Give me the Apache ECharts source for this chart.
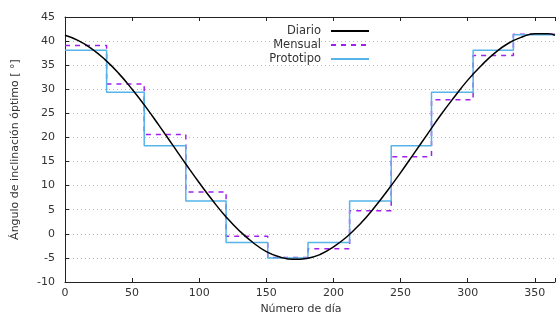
<!DOCTYPE html>
<html>
<head>
<meta charset="utf-8">
<script src="https://cdn.jsdelivr.net/npm/echarts@6/dist/echarts.min.js"></script>
<style>
  html, body { margin: 0; padding: 0; background: #fff; }
  #chart { width: 558px; height: 323px; }
</style>
</head>
<body>
<div id="chart"></div>
<script>
// inicio de cada mes (día del año) y fin de año
const monthStarts = [0, 31, 59, 90, 120, 151, 181, 212, 243, 273, 304, 334, 365];
// ángulo óptimo medio mensual (línea a trazos)
const monthlyValues = [39.1, 31.1, 20.6, 8.7, -0.5, -4.9, -3.1, 4.8, 16.0, 27.8, 37.0, 41.4];
// ángulos del prototipo (escalones azules)
const prototypeValues = [38.1, 29.4, 18.3, 6.8, -1.8, -5.0, -1.8, 6.8, 18.3, 29.4, 38.1, 41.3];
// ángulo diario leído cada 10 días
const dailyDays = [0, 10, 20, 30, 40, 50, 60, 70, 80, 90, 100, 110, 120, 130, 140, 150, 160, 170, 180,
  190, 200, 210, 220, 230, 240, 250, 260, 270, 280, 290, 300, 310, 320, 330, 340, 350, 360, 365];
const dailyValues = [41.2, 40.1, 38.4, 36.1, 33.3, 30.0, 26.4, 22.5, 18.5, 14.5, 10.6, 6.9, 3.5, 0.6, -1.8,
  -3.7, -4.8, -5.3, -5.1, -4.3, -2.7, -0.6, 2.1, 5.3, 8.9, 12.7, 16.7, 20.7, 24.7, 28.4, 31.9, 34.9,
  37.5, 39.5, 40.8, 41.5, 41.5, 41.2];

const yMin = -10, yMax = 45, yStep = 5;
const xMin = 0, xMax = 365, xStep = 50;

// escalones: el último valor se repite al final del año
const toSteps = vals => monthStarts.map((d, i) => [d, vals[Math.min(i, vals.length - 1)]]);

const chart = echarts.init(document.getElementById('chart'));
const font = 'DejaVu Sans';

chart.setOption({
  animation: false,
  grid: { left: 65, right: -4, top: 17, bottom: 41 },
  legend: {
    orient: 'vertical',
    align: 'right',
    right: 183,
    top: 20,
    itemWidth: 38,
    itemHeight: 10,
    itemGap: 2,
    itemStyle: { opacity: 0 },
    textStyle: { fontFamily: font, fontSize: 11.5, color: '#333', padding: [0, 5, 0, 0] },
    data: ['Diario', 'Mensual', 'Prototipo']
  },
  xAxis: [{
    type: 'value',
    min: xMin, max: xMax, interval: xStep,
    name: 'Número de día',
    nameLocation: 'middle',
    nameGap: 21,
    nameTextStyle: { fontFamily: font, fontSize: 11, color: '#333', padding: [0, 18, 0, 0] },
    axisLine: { onZero: false, lineStyle: { color: '#222', width: 1 } },
    axisTick: { inside: true, length: 4, lineStyle: { color: '#222' } },
    axisLabel: { fontFamily: font, fontSize: 11, color: '#333', margin: 6,
      formatter: v => (v % xStep === 0 ? v : '') },
    splitLine: { show: false }
  }, {
    type: 'value',
    position: 'top',
    min: xMin, max: xMax, interval: xStep,
    axisLine: { onZero: false, lineStyle: { color: '#222', width: 1 } },
    axisTick: { inside: true, length: 4, lineStyle: { color: '#222' } },
    axisLabel: { show: false },
    splitLine: { show: false }
  }],
  yAxis: {
    type: 'value',
    min: yMin, max: yMax, interval: yStep,
    name: 'Ángulo de inclinación óptimo [ °]',
    nameLocation: 'middle',
    nameGap: 44,
    nameTextStyle: { fontFamily: font, fontSize: 11, color: '#333' },
    axisLine: { show: true, onZero: false, lineStyle: { color: '#222', width: 1 } },
    axisTick: { show: true, inside: true, length: 4, lineStyle: { color: '#222' } },
    axisLabel: { fontFamily: font, fontSize: 11, color: '#333', margin: 10 },
    splitLine: { show: true, lineStyle: { color: '#b5b5b5', type: [1, 3], width: 1 } }
  },
  series: [
    {
      name: 'Diario',
      type: 'line',
      smooth: true,
      symbol: 'none',
      data: dailyDays.map((d, i) => [d, dailyValues[i]]),
      lineStyle: { color: '#000', width: 1.5 },
      itemStyle: { color: '#000' },
      z: 4
    },
    {
      name: 'Mensual',
      type: 'line',
      step: 'end',
      symbol: 'none',
      data: toSteps(monthlyValues),
      lineStyle: { color: '#a020f0', width: 1.5, type: [5, 5] },
      itemStyle: { color: '#a020f0' },
      z: 2
    },
    {
      name: 'Prototipo',
      type: 'line',
      step: 'end',
      symbol: 'none',
      data: toSteps(prototypeValues),
      lineStyle: { color: '#56B4E9', width: 1.5 },
      itemStyle: { color: '#56B4E9' },
      z: 3
    }
  ]
});
</script>
</body>
</html>
